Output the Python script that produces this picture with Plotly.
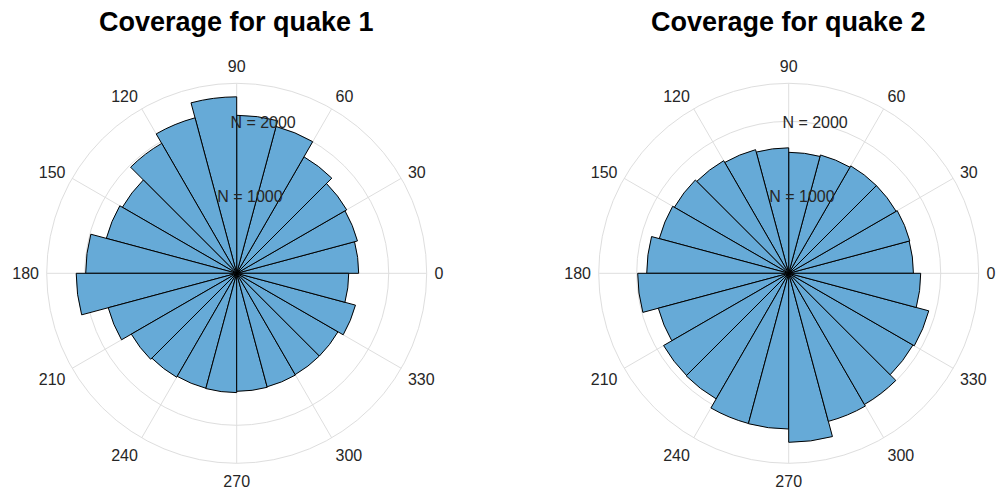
import plotly.graph_objects as go

# Bin centers (degrees), 15-degree bins
bin_centers = [7.5 + 15 * i for i in range(24)]
bin_width = 15

# Counts per bin
quake1_counts = [1605, 1645, 1671, 1770, 2000, 2079, 2322, 2118, 1974, 1737, 1776, 1987,
                 2112, 1750, 1601, 1579, 1566, 1570, 1553, 1546, 1539, 1539, 1618, 1474]
quake2_counts = [1641, 1649, 1632, 1632, 1612, 1592, 1651, 1684, 1711, 1737, 1763, 1868,
                 1987, 1776, 1901, 1908, 2046, 2049, 2224, 2017, 1993, 1888, 1908, 1737]

titles = ["Coverage for quake 1", "Coverage for quake 2"]
angle_ticks = list(range(0, 360, 30))
angle_labels = [str(a) for a in angle_ticks]
r_ticks = [1000, 2000]
r_labels = ["N = 1000", "N = 2000"]
r_max = 2500
label_angle = 80

FONT = "Liberation Sans, Arial, Helvetica, sans-serif"
BAR_COLOR = "rgb(102,170,215)"
GRID = "#dedede"
TEXT = "#262626"

W, H = 1003, 493
centers_px = [236.7, 788.7]
cy_px = 273.3
R_px = 190

fig = go.Figure()
for k, counts in enumerate([quake1_counts, quake2_counts]):
    sp = "polar" if k == 0 else "polar2"
    fig.add_trace(go.Barpolar(
        r=counts, theta=bin_centers, width=[bin_width] * len(counts),
        marker=dict(color=BAR_COLOR, line=dict(color="black", width=1)),
        subplot=sp, hoverinfo="skip", showlegend=False))
    fig.add_trace(go.Scatterpolar(
        r=r_ticks, theta=[label_angle] * len(r_ticks), mode="text",
        text=r_labels, textfont=dict(family=FONT, size=16, color=TEXT),
        subplot=sp, hoverinfo="skip", showlegend=False))

def polar_layout(cx):
    x0 = (cx - R_px) / W
    x1 = (cx + R_px) / W
    y0 = (H - (cy_px + R_px)) / H
    y1 = (H - (cy_px - R_px)) / H
    return dict(
        domain=dict(x=[x0, x1], y=[y0, y1]),
        bgcolor="white",
        bargap=0,
        radialaxis=dict(range=[0, r_max], tickvals=r_ticks, showticklabels=False,
                        ticks="", showline=False, gridcolor=GRID, gridwidth=1),
        angularaxis=dict(tickvals=angle_ticks, ticktext=angle_labels,
                         rotation=0, direction="counterclockwise",
                         gridcolor=GRID, linecolor=GRID, linewidth=1,
                         ticks="outside", ticklen=4, tickcolor="rgba(0,0,0,0)",
                         tickfont=dict(family=FONT, size=16, color=TEXT)),
    )

annotations = []
for k, cx in enumerate(centers_px):
    annotations.append(dict(
        text="<b>" + titles[k] + "</b>", x=cx / W, y=(H - 22) / H,
        xref="paper", yref="paper", xanchor="center", yanchor="middle",
        showarrow=False, font=dict(family=FONT, size=27, color="black")))

fig.update_layout(
    width=W, height=H,
    margin=dict(l=0, r=0, t=0, b=0),
    paper_bgcolor="white",
    font=dict(family=FONT, color=TEXT),
    polar=polar_layout(centers_px[0]),
    polar2=polar_layout(centers_px[1]),
    annotations=annotations,
    showlegend=False,
)

fig.write_html("out.html", config={"displayModeBar": False},
               post_script="document.body.style.margin='0';document.body.style.padding='0';")
